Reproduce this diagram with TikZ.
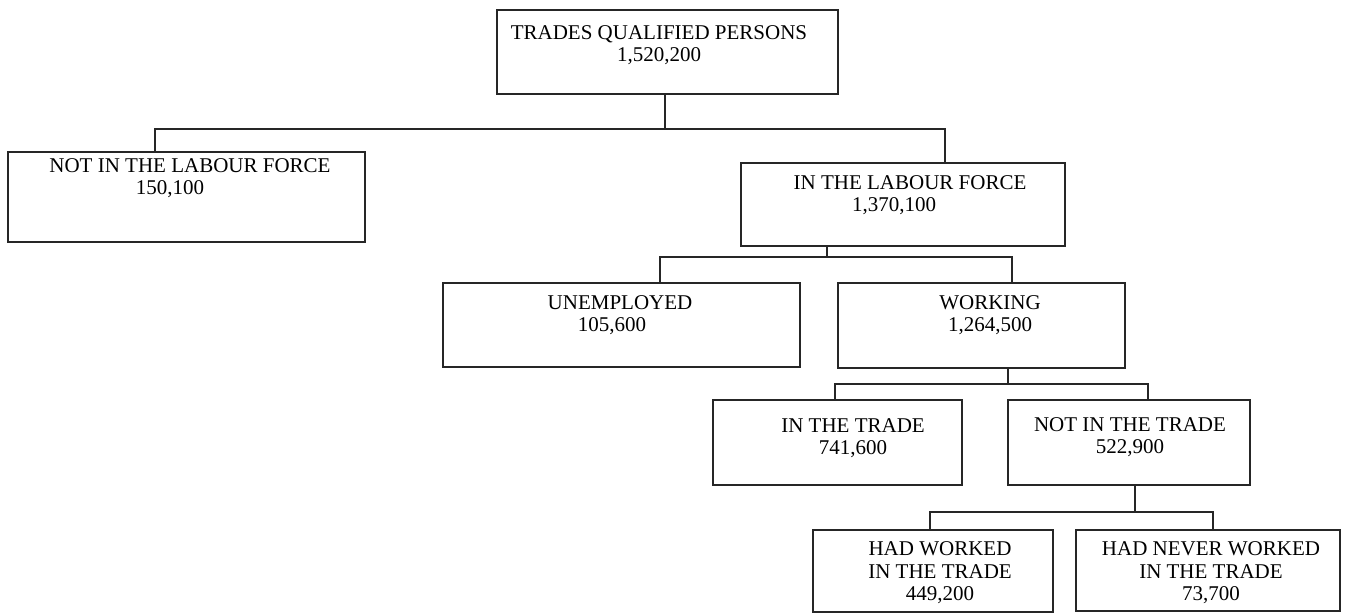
\documentclass[tikz,border=0pt]{standalone}
\usepackage{fontspec}
\setmainfont{Liberation Serif}
\begin{document}
\begin{tikzpicture}[x=1pt,y=-1pt,
  box/.style={draw=black!85, line width=1.3pt, inner sep=0pt, outer sep=0pt, rectangle},
  lbl/.style={align=center, inner sep=0pt, text=black, font=\fontsize{21}{22.5}\selectfont},
  link/.style={draw=black!85, line width=1.3pt}]
\useasboundingbox[fill=white] (0,0) rectangle (1346,615);

% boxes
\node[box, minimum width=341pt, minimum height=84pt] (top) at (667.5,52) {};
\node[box, minimum width=357pt, minimum height=90pt] (nlf) at (186.5,197) {};
\node[box, minimum width=324pt, minimum height=83pt] (lf) at (903,204.5) {};
\node[box, minimum width=357pt, minimum height=84pt] (unemp) at (621.5,325) {};
\node[box, minimum width=287pt, minimum height=85pt] (work) at (981.5,325.5) {};
\node[box, minimum width=249pt, minimum height=85pt] (intrade) at (837.5,442.5) {};
\node[box, minimum width=242pt, minimum height=85pt] (notintrade) at (1129,442.5) {};
\node[box, minimum width=240pt, minimum height=82pt] (hadw) at (933,571) {};
\node[box, minimum width=264pt, minimum height=81pt] (never) at (1208,570.5) {};

% labels
\node[lbl] (topt) at (659,45) {TRADES QUALIFIED PERSONS\\1,520,200};
\node[lbl] (nlft) at (190,178) {NOT IN THE LABOUR FORCE\\\hspace*{-40pt}150,100};
\node[lbl] (lft) at (910,195) {IN THE LABOUR FORCE\\\hspace*{-32pt}1,370,100};
\node[lbl] (unempt) at (620,315) {UNEMPLOYED\\\hspace*{-16pt}105,600};
\node[lbl] (workt) at (990,315) {WORKING\\1,264,500};
\node[lbl] (intradet) at (853,438) {IN THE TRADE\\741,600};
\node[lbl] (notintradet) at (1130,437) {NOT IN THE TRADE\\522,900};
\node[lbl] (hadwt) at (940,573) {HAD WORKED\\IN THE TRADE\\449,200};
\node[lbl] (nevert) at (1211,573) {HAD NEVER WORKED\\IN THE TRADE\\73,700};

% junctions
\coordinate (j0) at (665,129);
\coordinate (j0l) at (155,129);
\coordinate (j0r) at (945,129);
\coordinate (j1) at (827,257);
\coordinate (j1l) at (660,257);
\coordinate (j1r) at (1012,257);
\coordinate (j2) at (1008,384);
\coordinate (j2l) at (835,384);
\coordinate (j2r) at (1148,384);
\coordinate (j3) at (1135,512);
\coordinate (j3l) at (930,512);
\coordinate (j3r) at (1213,512);

% connectors
\draw[link] (top.south -| j0) -- (j0);
\draw[link] (nlf.north -| j0l) -- (j0l) -- (j0r) -- (lf.north -| j0r);
\draw[link] (lf.south -| j1) -- (j1);
\draw[link] (unemp.north -| j1l) -- (j1l) -- (j1r) -- (work.north -| j1r);
\draw[link] (work.south -| j2) -- (j2);
\draw[link] (intrade.north -| j2l) -- (j2l) -- (j2r) -- (notintrade.north -| j2r);
\draw[link] (notintrade.south -| j3) -- (j3);
\draw[link] (hadw.north -| j3l) -- (j3l) -- (j3r) -- (never.north -| j3r);
\end{tikzpicture}
\end{document}
